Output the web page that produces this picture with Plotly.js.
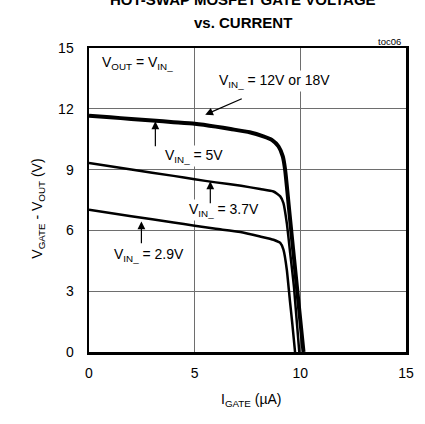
<!DOCTYPE html>
<html>
<head>
<meta charset="utf-8">
<script src="https://cdn.plot.ly/plotly-3.0.1.min.js"></script>
<style>
html,body{margin:0;padding:0;background:#fff;}
#chart{width:425px;height:424px;}
</style>
</head>
<body>
<div id="chart"></div>
<script>
// I_GATE (µA) and V_GATE - V_OUT (V)
const iHigh = [0, 1, 2, 3, 4, 5, 6, 6.7, 7.6, 8.25, 8.65, 8.97, 9.17, 9.28, 9.5, 9.8, 10.15];
const vHigh = [11.66, 11.58, 11.5, 11.42, 11.34, 11.26, 11.12, 11.0, 10.84, 10.64, 10.47, 10.14, 9.65, 8.99, 6.7, 3.6, 0];

const i37 = [0, 2, 4, 5, 6, 7.2, 8.1, 8.73, 9.05, 9.2, 9.36, 9.52, 9.7, 9.95];
const v37 = [9.32, 9.0, 8.69, 8.52, 8.37, 8.2, 8.04, 7.92, 7.68, 7.35, 6.36, 4.88, 3.2, 0];

const i29 = [0, 2, 4, 5, 6, 7.16, 8.1, 8.73, 9.05, 9.2, 9.36, 9.5, 9.62, 9.75];
const v29 = [7.02, 6.7, 6.39, 6.23, 6.08, 5.92, 5.7, 5.54, 5.38, 5.05, 4.06, 2.6, 1.4, 0];

const xTicks = [0, 5, 10, 15];
const yTicks = [0, 3, 6, 9, 12, 15];

const FONT = 'Liberation Sans, Arial, sans-serif';

const traces = [
  {x: iHigh, y: vHigh, mode: 'lines', line: {color: '#000', width: 4, shape: 'spline', smoothing: 0.5}, hoverinfo: 'skip'},
  {x: i37, y: v37, mode: 'lines', line: {color: '#000', width: 2.5, shape: 'spline', smoothing: 0.5}, hoverinfo: 'skip'},
  {x: i29, y: v29, mode: 'lines', line: {color: '#000', width: 2.5, shape: 'spline', smoothing: 0.5}, hoverinfo: 'skip'}
];

function arrow(hx, hy, tx, ty) {
  return {x: hx, y: hy, ax: tx, ay: ty, xref: 'x', yref: 'y', axref: 'x', ayref: 'y',
    text: '', showarrow: true, arrowhead: 2, arrowsize: 1.3, arrowwidth: 1.2, arrowcolor: '#000'};
}
function label(txt, x, y) {
  return {x: x, y: y, xref: 'x', yref: 'y', text: txt, showarrow: false, xanchor: 'left', yanchor: 'middle',
    bgcolor: '#fff', font: {family: FONT, size: 14, color: '#000'}};
}

const layout = {
  width: 425, height: 424,
  margin: {l: 88.5, r: 19, t: 48, b: 71.7, pad: 0},
  paper_bgcolor: '#fff', plot_bgcolor: '#fff',
  showlegend: false,
  font: {family: FONT, size: 14, color: '#000'},
  xaxis: {range: [0, 15], tickvals: xTicks, ticktext: xTicks.map(String), showgrid: true, gridcolor: '#6e6e6e', gridwidth: 1,
    zeroline: false, showline: true, mirror: true, linecolor: '#000', linewidth: 2.5,
    ticks: 'outside', ticklen: 7, tickcolor: 'rgba(0,0,0,0)', tickfont: {family: FONT, size: 14}},
  yaxis: {range: [0, 15], tickvals: yTicks, ticktext: yTicks.map(String), showgrid: true, gridcolor: '#6e6e6e', gridwidth: 1,
    zeroline: false, showline: true, mirror: true, linecolor: '#000', linewidth: 2.5,
    ticks: 'outside', ticklen: 10, tickcolor: 'rgba(0,0,0,0)', tickfont: {family: FONT, size: 14}},
  annotations: [
    {xref: 'paper', yref: 'paper', x: 0.487, y: 1.161, xanchor: 'center', yanchor: 'middle', showarrow: false,
      text: '<b>HOT-SWAP MOSFET GATE VOLTAGE</b>', font: {family: FONT, size: 15, color: '#000'}},
    {xref: 'paper', yref: 'paper', x: 0.487, y: 1.0855, xanchor: 'center', yanchor: 'middle', showarrow: false,
      text: '<b>vs. CURRENT</b>', font: {family: FONT, size: 15, color: '#000'}},
    {xref: 'paper', yref: 'paper', x: 0.9906, y: 1.023, xanchor: 'right', yanchor: 'middle', showarrow: false,
      text: 'toc06', font: {family: FONT, size: 9.5, color: '#000'}},
    {xref: 'paper', yref: 'paper', x: 0.512, y: -0.157, xanchor: 'center', yanchor: 'middle', showarrow: false,
      text: 'I<sub>GATE</sub> (µA)', font: {family: FONT, size: 14, color: '#000'}},
    {xref: 'paper', yref: 'paper', x: -0.159, y: 0.47, xanchor: 'center', yanchor: 'middle', showarrow: false, textangle: -90,
      text: 'V<sub>GATE</sub> - V<sub>OUT</sub> (V)', font: {family: FONT, size: 14, color: '#000'}},
    label('V<sub>OUT</sub> = V<sub>IN_</sub>', 0.5, 14.26),
    label('V<sub>IN_</sub> = 12V or 18V', 6.06, 13.35),
    label('V<sub>IN_</sub> = 5V', 3.5, 9.65),
    label('V<sub>IN_</sub> = 3.7V', 4.65, 7.02),
    label('V<sub>IN_</sub> = 2.9V', 1.11, 4.8),
    arrow(5.5, 11.71, 7.3, 12.53),
    arrow(3.14, 11.38, 3.14, 10.08),
    arrow(5.74, 8.42, 5.74, 7.27),
    arrow(2.48, 6.44, 2.48, 5.29)
  ]
};

Plotly.newPlot('chart', traces, layout, {staticPlot: true, displayModeBar: false});
</script>
</body>
</html>
